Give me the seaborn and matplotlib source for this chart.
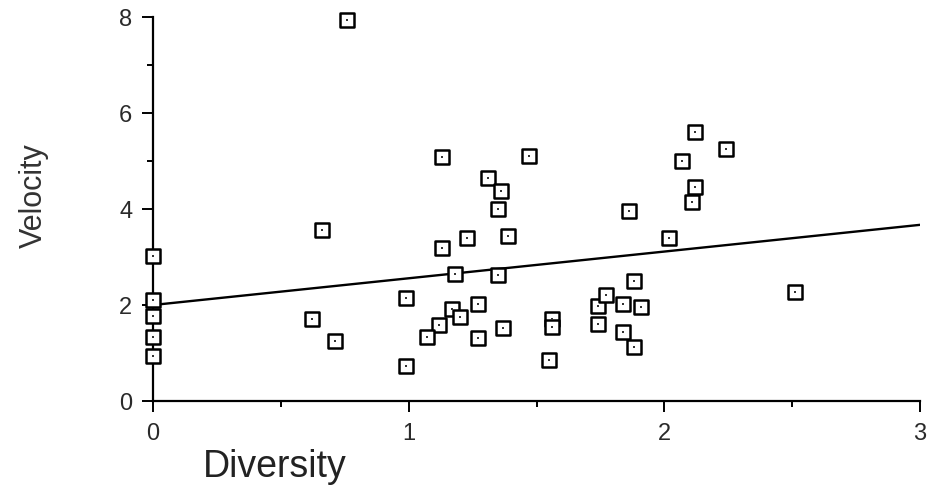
import pandas as pd
import matplotlib.pyplot as plt
import numpy as np
import seaborn as sns
from matplotlib.ticker import MultipleLocator

# values
diversity = [0.76, 0.66, 0.00, 0.00, 0.00, 0.00, 0.00, 0.62, 0.71, 0.99,
             0.99, 1.13, 1.13, 1.23, 1.18, 1.31, 1.36, 1.35, 1.39, 1.35,
             1.47, 1.17, 1.20, 1.27, 1.12, 1.07, 1.27, 1.37, 1.56, 1.56,
             1.55, 1.74, 1.77, 1.74, 1.84, 1.91, 1.84, 1.88, 1.88, 1.86,
             2.02, 2.07, 2.12, 2.24, 2.12, 2.11, 2.51]
velocity = [7.94, 3.56, 3.02, 2.10, 1.77, 1.33, 0.94, 1.71, 1.25, 2.15,
            0.73, 5.08, 3.19, 3.40, 2.65, 4.65, 4.38, 4.00, 3.44, 2.63,
            5.10, 1.92, 1.75, 2.02, 1.58, 1.33, 1.31, 1.52, 1.71, 1.54,
            0.85, 1.98, 2.21, 1.60, 2.02, 1.96, 1.44, 1.13, 2.50, 3.96,
            3.40, 5.00, 5.60, 5.25, 4.46, 4.15, 2.27]

# fitted line end points
fit_x = [0, 3]
fit_y = [2.0, 3.67]

x_ticks = [0, 1, 2, 3]
y_ticks = [0, 2, 4, 6, 8]

df = pd.DataFrame({'Diversity': diversity, 'Velocity': velocity})
fit = pd.DataFrame({'x': fit_x, 'y': fit_y})

sns.set_style('white')
plt.rcParams['font.family'] = ['Liberation Sans', 'DejaVu Sans']

fig = plt.figure(figsize=(9.3, 4.91), dpi=100)
ax = fig.add_axes([153 / 930, 90 / 491, 767 / 930, 384 / 491])

sns.lineplot(data=fit, x='x', y='y', color='black', linewidth=1.7, ax=ax)
sns.scatterplot(data=df, x='Diversity', y='Velocity', marker='s', s=90,
                facecolor='white', edgecolor='black', linewidth=1.8,
                clip_on=False, zorder=3, ax=ax)
sns.scatterplot(data=df, x='Diversity', y='Velocity', marker='s', s=4,
                color='#333333', linewidth=0, clip_on=False, zorder=4, ax=ax)

ax.set_xlim(0, 3)
ax.set_ylim(0, 8)
ax.set_xticks(x_ticks)
ax.set_yticks(y_ticks)
ax.xaxis.set_minor_locator(MultipleLocator(0.5))
ax.yaxis.set_minor_locator(MultipleLocator(1))

sns.despine(ax=ax)
for side in ['left', 'bottom']:
    ax.spines[side].set_linewidth(1.6)
    ax.spines[side].set_color('black')

ax.tick_params(axis='both', which='major', direction='out', length=8,
               width=1.4, color='black', labelsize=17, labelcolor='#2a2a2a')
ax.tick_params(axis='both', which='minor', direction='out', length=4,
               width=1.4, color='black')
ax.tick_params(axis='x', which='major', pad=8)
ax.tick_params(axis='y', which='major', pad=7, left=True)
ax.tick_params(axis='y', which='minor', left=True)
ax.tick_params(axis='x', which='both', bottom=True)

ax.set_xlabel('Diversity', fontsize=27, color='#222222')
ax.set_ylabel('Velocity', fontsize=22, color='#333333')
ax.xaxis.set_label_coords(0.159, -0.125)
ax.yaxis.set_label_coords(-0.136, 0.534)

plt.savefig('out.png', dpi=100, facecolor='white')
plt.close()
